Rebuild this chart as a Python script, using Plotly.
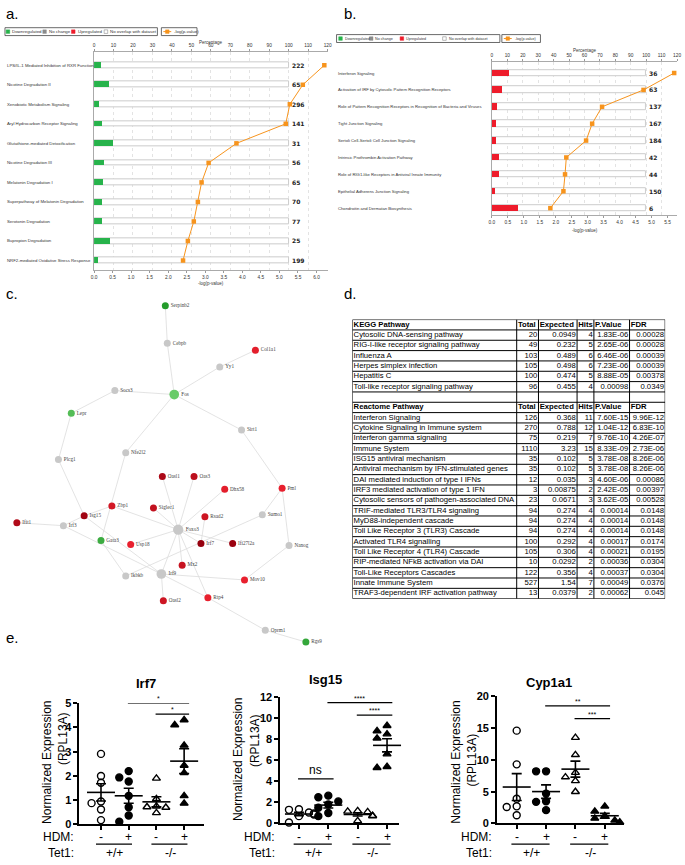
import plotly.graph_objects as go
import numpy as np

W, H = 685, 865
def X(px): return px / W
def Y(py): return 1 - py / H

SANS = "Liberation Sans"
SERIF = "Liberation Serif"

# ---------------- Panel a data ----------------
a_pathways = ["LPS/IL-1 Mediated Inhibition of RXR Function", "Nicotine Degradation II",
              "Xenobiotic Metabolism Signaling", "Aryl Hydrocarbon Receptor Signaling",
              "Glutathione-mediated Detoxification", "Nicotine Degradation III",
              "Melatonin Degradation I", "Superpathway of Melatonin Degradation",
              "Serotonin Degradation", "Bupropion Degradation",
              "NRF2-mediated Oxidative Stress Response"]
a_totals = [222, 65, 296, 141, 31, 56, 65, 70, 77, 25, 199]
a_hits_down = [8, 5, 7, 6, 3, 3, 3, 3, 3, 2, 4]
a_neglogp = [6.21, 5.63, 5.28, 5.17, 3.84, 3.09, 2.90, 2.80, 2.69, 2.53, 2.40]

# ---------------- Panel b data ----------------
b_pathways = ["Interferon Signaling", "Activation of IRF by Cytosolic Pattern Recognition Receptors",
              "Role of Pattern Recognition Receptors in Recognition of Bacteria and Viruses",
              "Tight Junction Signaling", "Sertoli Cell-Sertoli Cell Junction Signaling",
              "Intrinsic Prothrombin Activation Pathway",
              "Role of RIG1-like Receptors in Antiviral Innate Immunity",
              "Epithelial Adherens Junction Signaling", "Chondroitin and Dermatan Biosynthesis"]
b_totals = [36, 63, 137, 167, 184, 42, 44, 150, 6]
b_hits_up = [4, 4, 4, 4, 5, 2, 2, 3, 1]
b_neglogp = [5.71, 4.75, 3.45, 3.14, 2.95, 2.33, 2.29, 2.24, 1.83]

# ---------------- Panel c data (network layout) ----------------
net_nodes = ["Serpinb2", "Cebpb", "Col1a1", "Yy1", "Socs3", "Fos", "Lepr", "Sirt1",
             "Plcg1", "Nfe2l2", "Oasl1", "Oas3", "Dhx58", "Pml", "Zbp1", "Siglec1",
             "Isg15", "Rsad2", "Sumo1", "Ifit1", "Irf3", "Foxo3", "Gata3", "Usp18",
             "Irf7", "Ifi27l2a", "Nanog", "Mx2", "Ikbkb", "Irf9", "Mov10", "Oasl2",
             "Rtp4", "Oprm1", "Rgs9"]
net_x = [164, 166, 255, 219, 113, 173, 69, 241, 56, 124, 161, 193, 224, 282, 110, 152,
         82, 204, 262, 14, 61, 177, 99, 129, 200, 232, 289, 181, 124, 160, 244, 162,
         207, 265, 306]
net_y = [304, 342, 349, 366, 390, 394, 413, 430, 460, 453, 477, 477, 490, 489, 507, 509,
         517, 518, 516, 524, 527, 531, 542, 546, 545, 545, 547, 567, 578, 576, 582, 603,
         600, 633, 645]
net_fc = [-2.8, 0, 1.6, 0, 0, -1.1, -1.6, 0, 0, 0, 2.6, 2.3, 1.6, 1.5, 1.9, 2.2,
          2.8, 2.0, 0, 2.5, 0, 0, -2.2, 1.5, 3.0, 2.9, 0, 2.1, 0, 0, 1.5, 2.0,
          1.5, 0, -2.4]
net_degree_hub = {"Foxo3": 11, "Irf9": 9, "Fos": 9}
net_edges = [("Serpinb2", "Cebpb"), ("Cebpb", "Fos"), ("Col1a1", "Yy1"), ("Yy1", "Fos"),
             ("Socs3", "Fos"), ("Socs3", "Lepr"), ("Fos", "Sirt1"), ("Fos", "Nfe2l2"),
             ("Lepr", "Plcg1"), ("Sirt1", "Pml"), ("Plcg1", "Isg15"), ("Nfe2l2", "Gata3"),
             ("Pml", "Sumo1"), ("Pml", "Nanog"), ("Ifit1", "Irf3"), ("Irf3", "Isg15"),
             ("Isg15", "Zbp1"), ("Zbp1", "Foxo3"), ("Isg15", "Irf9"), ("Irf3", "Irf9"),
             ("Gata3", "Ikbkb"), ("Usp18", "Foxo3"), ("Ikbkb", "Sumo1"),
             ("Foxo3", "Oasl1"), ("Foxo3", "Oas3"), ("Foxo3", "Dhx58"), ("Foxo3", "Siglec1"),
             ("Rsad2", "Irf7"), ("Foxo3", "Ifi27l2a"), ("Foxo3", "Irf7"), ("Foxo3", "Mx2"),
             ("Foxo3", "Irf9"), ("Foxo3", "Rtp4"), ("Irf9", "Mov10"), ("Irf9", "Oasl2"),
             ("Irf9", "Rtp4"), ("Nanog", "Mov10"), ("Rtp4", "Oprm1"), ("Oprm1", "Rgs9")]

# ---------------- Panel d data (table) ----------------
tbl_cols = ["Total", "Expected", "Hits", "P.Value", "FDR"]
kegg_names = ["Cytosolic DNA-sensing pathway", "RIG-I-like receptor signaling pathway",
              "Influenza A", "Herpes simplex infection", "Hepatitis C",
              "Toll-like receptor signaling pathway"]
kegg_total = ["20", "49", "103", "105", "100", "96"]
kegg_expected = ["0.0949", "0.232", "0.489", "0.498", "0.474", "0.455"]
kegg_hits = ["4", "5", "6", "6", "5", "4"]
kegg_p = ["1.83E-06", "2.65E-06", "6.46E-06", "7.23E-06", "8.88E-05", "0.00098"]
kegg_fdr = ["0.00028", "0.00028", "0.00039", "0.00039", "0.00378", "0.0349"]
react_names = ["Interferon Signaling", "Cytokine Signaling in Immune system",
               "Interferon gamma signaling", "Immune System", "ISG15 antiviral mechanism",
               "Antiviral mechanism by IFN-stimulated genes",
               "DAI mediated induction of type I IFNs", "IRF3 mediated activation of type 1 IFN",
               "Cytosolic sensors of pathogen-associated DNA", "TRIF-mediated TLR3/TLR4 signaling",
               "MyD88-independent cascade", "Toll Like Receptor 3 (TLR3) Cascade",
               "Activated TLR4 signalling", "Toll Like Receptor 4 (TLR4) Cascade",
               "RIP-mediated NFkB activation via DAI", "Toll-Like Receptors Cascades",
               "Innate Immune System", "TRAF3-dependent IRF activation pathway"]
react_total = ["126", "270", "75", "1110", "35", "35", "12", "3", "23", "94", "94", "94",
               "100", "105", "10", "122", "527", "13"]
react_expected = ["0.368", "0.788", "0.219", "3.23", "0.102", "0.102", "0.035", "0.00875",
                  "0.0671", "0.274", "0.274", "0.274", "0.292", "0.306", "0.0292", "0.356",
                  "1.54", "0.0379"]
react_hits = ["11", "12", "7", "15", "5", "5", "3", "2", "3", "4", "4", "4", "4", "4", "2",
              "4", "7", "2"]
react_p = ["7.60E-15", "1.04E-12", "9.76E-10", "8.33E-09", "3.78E-08", "3.78E-08", "4.60E-06",
           "2.42E-05", "3.62E-05", "0.00014", "0.00014", "0.00014", "0.00017", "0.00021",
           "0.00036", "0.00037", "0.00049", "0.00062"]
react_fdr = ["9.96E-12", "6.83E-10", "4.26E-07", "2.73E-06", "8.26E-06", "8.26E-06", "0.00086",
             "0.00397", "0.00528", "0.0148", "0.0148", "0.0148", "0.0174", "0.0195", "0.0304",
             "0.0304", "0.0376", "0.045"]

# ---------------- Panel e data ----------------
e_genes = ["Irf7", "Isg15", "Cyp1a1"]
irf7_groups = [[2.91, 2.0, 1.72, 0.95, 0.88, 0.62, 0.18],
               [2.2, 1.94, 1.77, 1.18, 0.71, 0.37, 0.11],
               [1.9, 1.05, 0.75, 0.72, 0.70, 0.48],
               [4.31, 4.1, 3.26, 2.43, 2.13, 1.18, 0.87]]
isg15_groups = [[1.35, 1.3, 1.05, 0.95, 0.85, 0.7, 0.1],
                [2.65, 2.5, 2.1, 1.8, 1.5, 1.0, 0.7],
                [1.2, 1.15, 1.1, 0.75, 0.7, 0.25],
                [9.3, 8.8, 8.5, 8.1, 6.6, 5.3, 5.4]]
cyp1a1_groups = [[14.6, 9.3, 3.9, 2.7, 2.6, 1.3],
                 [8.2, 8.2, 4.7, 3.5, 3.4, 2.1],
                 [13.5, 10.8, 8.0, 7.3, 6.7, 5.0],
                 [2.7, 1.9, 1.2, 0.8, 0.5, 0.2]]
hdm_labels = ["-", "+", "-", "+"]
tet1_labels = ["+/+", "-/-"]
irf7_sig = [(1, 3, 5.0, "*"), (2, 3, 4.55, "*")]
isg15_sig = [(1, 3, 11.5, "****"), (2, 3, 10.3, "****"), (0, 1, 4.25, "ns")]
cyp1a1_sig = [(1, 3, 18.5, "**"), (2, 3, 16.5, "***")]

fig = go.Figure()
annotations = []
shapes = []

def pann(text, px, py, size, xanchor="left", family=SANS, color="#222", yanchor="middle", **kw):
    annotations.append(dict(text=text, x=X(px), y=Y(py), xref="paper", yref="paper",
                            xanchor=xanchor, yanchor=yanchor, showarrow=False,
                            font=dict(size=size, family=family, color=color), **kw))

# ============ Panels a & b (IPA bar charts) ============
GREEN, RED, ORANGE = "#27b34b", "#ee1c2b", "#f7941d"

def ipa_panel(names, totals, hits, nlp, color, xp, xl, yax, bar_w, lab_px, lab_size):
    rows = list(range(len(names)))
    pct = [100 * h / t for h, t in zip(hits, totals)]
    fig.add_trace(go.Bar(y=rows, x=[100] * len(rows), orientation="h", width=bar_w,
                         marker=dict(color="white", line=dict(color="#cccccc", width=1)),
                         xaxis=xp, yaxis=yax, showlegend=False, hoverinfo="skip"))
    fig.add_trace(go.Bar(y=rows, x=pct, orientation="h", width=bar_w,
                         marker=dict(color=color, line=dict(width=0)),
                         xaxis=xp, yaxis=yax, showlegend=False))
    fig.add_trace(go.Scatter(x=nlp, y=rows, mode="lines+markers",
                             line=dict(color=ORANGE, width=1),
                             marker=dict(symbol="square", size=4.5, color=ORANGE),
                             xaxis=xl, yaxis=yax, showlegend=False, cliponaxis=False))
    for i, (n, t) in enumerate(zip(names, totals)):
        annotations.append(dict(text=n, x=X(lab_px), y=i, xref="paper", yref=yax,
                                xanchor="left", yanchor="middle", showarrow=False,
                                font=dict(size=lab_size, family=SANS, color="#333")))
        annotations.append(dict(text=str(t), x=100, y=i, xref=xp, yref=yax, xshift=1,
                                xanchor="left", yanchor="middle", showarrow=False,
                                font=dict(size=6, family="DejaVu Sans", color="#222",
                                          weight="bold")))

ipa_panel(a_pathways, a_totals, a_hits_down, a_neglogp, GREEN, "x", "x2", "y", 0.3, 2, 4.3)
ipa_panel(b_pathways, b_totals, b_hits_up, b_neglogp, RED, "x3", "x4", "y2", 0.38, 336, 4.2)

def legend_boxes(x0, x1, x2, x3, y0, y1, items, lp, fs):
    shapes.append(dict(type="rect", xref="paper", yref="paper", x0=X(x0), x1=X(x1),
                       y0=Y(y1), y1=Y(y0), line=dict(color="#444", width=0.8)))
    shapes.append(dict(type="rect", xref="paper", yref="paper", x0=X(x2), x1=X(x3),
                       y0=Y(y1), y1=Y(y0), line=dict(color="#444", width=0.8)))
    ym = (y0 + y1) / 2
    for cx, col, txt in items:
        shapes.append(dict(type="rect", xref="paper", yref="paper", x0=X(cx - 1.8),
                           x1=X(cx + 1.8), y0=Y(ym + 1.8), y1=Y(ym - 1.8),
                           fillcolor=col, line=dict(color="#777" if col == "white" else col,
                                                    width=0.5)))
        pann(txt, cx + 2.3, ym, fs, color="#333")
    shapes.append(dict(type="line", xref="paper", yref="paper", x0=X(lp - 4), x1=X(lp + 4),
                       y0=Y(ym), y1=Y(ym), line=dict(color=ORANGE, width=1)))
    shapes.append(dict(type="rect", xref="paper", yref="paper", x0=X(lp - 1.8),
                       x1=X(lp + 1.8), y0=Y(ym + 1.8), y1=Y(ym - 1.8),
                       fillcolor=ORANGE, line=dict(color=ORANGE, width=0.5)))
    pann("-log(p-value)", lp + 5, ym, fs, color="#333")

leg_items = ["Downregulated", "No change", "Upregulated", "No overlap with dataset"]
leg_cols = [GREEN, "#8c8c8c", RED, "white"]
legend_boxes(2, 156, 160, 196, 22, 30,
             list(zip([5, 42, 71, 104], leg_cols, leg_items)), 166, 4.4)
legend_boxes(337, 502, 504, 543, 29, 37,
             list(zip([341, 372, 403, 446], leg_cols, leg_items)), 510, 3.7)

pann("Percentage", 210, 37, 4.5, xanchor="center", color="#333")
pann("-log(p-value)", 210, 281, 4.5, xanchor="center", color="#333")
pann("Percentage", 588, 45, 4.5, xanchor="center", color="#333")
pann("-log(p-value)", 588, 228, 4.5, xanchor="center", color="#333")

axis_small = dict(tickfont=dict(size=4.8, family=SANS, color="#333"), ticks="outside",
                  ticklen=2, tickcolor="#999", linecolor="#aaa", showline=True,
                  zeroline=False)

# ============ Panel c (network) ============
def fc_color(v):
    def mix(c1, c2, t):
        t = min(max(t, 0.0), 1.0)
        return "rgb(%d,%d,%d)" % tuple(int(round(a + (b - a) * t)) for a, b in zip(c1, c2))
    if v == 0:
        return "rgb(200,200,200)"
    if v < 0:
        return mix((108, 206, 108), (28, 150, 36), (-v - 1) / 2.0)
    return mix((232, 32, 46), (150, 0, 14), (v - 1.5) / 1.5)

idx = {n: i for i, n in enumerate(net_nodes)}
ex, ey = [], []
for a_, b_ in net_edges:
    ex += [net_x[idx[a_]], net_x[idx[b_]], None]
    ey += [net_y[idx[a_]], net_y[idx[b_]], None]
fig.add_trace(go.Scatter(x=ex, y=ey, mode="lines", line=dict(color="#dcdcdc", width=0.8),
                         xaxis="x5", yaxis="y3", showlegend=False, hoverinfo="skip"))
node_sizes = [7 + 0.3 * net_degree_hub.get(n, 0) for n in net_nodes]
fig.add_trace(go.Scatter(x=net_x, y=net_y, mode="markers+text", text=net_nodes,
                         textposition="middle right",
                         textfont=dict(size=5.2, family=SERIF, color="#444"),
                         marker=dict(size=node_sizes, color=[fc_color(v) for v in net_fc],
                                     line=dict(width=0), opacity=1),
                         xaxis="x5", yaxis="y3", showlegend=False, cliponaxis=False))

# ============ Panel d (table drawn on its own axes) ============
col_w = [166, 22, 39, 17, 36, 36]
edges_x = [float(v) for v in np.cumsum([0] + col_w)]
names_col = (["<b>KEGG Pathway</b>"] + kegg_names + [""] + ["<b>Reactome Pathway</b>"]
             + react_names)
nrows = len(names_col)
hdr_rows = [0, len(kegg_names) + 2]
num_cols = [kegg_total, kegg_expected, kegg_hits, kegg_p, kegg_fdr]
rnum_cols = [react_total, react_expected, react_hits, react_p, react_fdr]
tfont = dict(size=7.7, family=SANS, color="black")
gx, gy = [], []
for r in range(nrows + 1):
    gx += [0, edges_x[-1], None]
    gy += [r, r, None]
for e in edges_x:
    gx += [e, e, None]
    gy += [0, nrows, None]
fig.add_trace(go.Scatter(x=gx, y=gy, mode="lines", line=dict(color="black", width=1),
                         xaxis="x9", yaxis="y7", showlegend=False, hoverinfo="skip",
                         cliponaxis=False))
rows_c = [r + 0.5 for r in range(nrows)]
fig.add_trace(go.Scatter(x=[1.2] * nrows, y=rows_c, mode="text", text=names_col,
                         textposition="middle right", textfont=tfont,
                         xaxis="x9", yaxis="y7", showlegend=False, cliponaxis=False))
for ci, (hdr, kv, rv) in enumerate(zip(tbl_cols, num_cols, rnum_cols)):
    vals = [""] + kv + [""] + [""] + rv
    fig.add_trace(go.Scatter(x=[edges_x[ci + 2] - 1.2] * nrows, y=rows_c, mode="text",
                             text=vals, textposition="middle left", textfont=tfont,
                             xaxis="x9", yaxis="y7", showlegend=False, cliponaxis=False))
    fig.add_trace(go.Scatter(x=[edges_x[ci + 1] + 1.2] * 2, y=[r + 0.5 for r in hdr_rows],
                             mode="text", text=["<b>" + hdr + "</b>"] * 2,
                             textposition="middle right", textfont=tfont,
                             xaxis="x9", yaxis="y7", showlegend=False, cliponaxis=False))

# ============ Panel e (dot plots) ============
def swarm(vals, ppu_y, ppc, diam=6.5, step=0.17):
    order = np.argsort(vals)[::-1]
    placed = []
    offs = [0.0] * len(vals)
    for i in order:
        yv = vals[i] * ppu_y
        for k in [0, -1, 1, -2, 2, -3, 3]:
            dx = k * step * ppc
            if all(abs(yv - py) >= diam or abs(dx - pdx) >= diam for py, pdx in placed):
                break
        placed.append((yv, dx))
        offs[i] = dx / ppc
    return offs

syms = ["circle-open", "circle", "triangle-up-open", "triangle-up"]
e_specs = [
    (irf7_groups, irf7_sig, "x6", "y4", (77, 203), (99, 183), (707, 830), 5, 1,
     (144, 687), ((45, 767), (60, 743))),
    (isg15_groups, isg15_sig, "x7", "y5", (280, 400), (299, 388), (701, 829), 12, 2,
     (326, 683), ((238, 764), (254, 745))),
    (cyp1a1_groups, cyp1a1_sig, "x8", "y6", (499, 627), (519, 608), (700, 829), 20, 5,
     (552, 686), ((458, 767), (474, 765))),
]
e_layout = {}
for gi, (groups, sig, xa, ya, xpx, cpx, ypx, ymax, dt, tpos, ylpos) in enumerate(e_specs):
    ppc = (cpx[1] - cpx[0]) / 3.0
    ppu = (ypx[1] - ypx[0]) / ymax
    xr = [(xpx[0] - cpx[0]) / ppc, 3 + (xpx[1] - cpx[1]) / ppc]
    means, sems = [], []
    for ci, vals in enumerate(groups):
        v = np.array(vals)
        means.append(v.mean())
        sems.append(v.std(ddof=1) / np.sqrt(len(v)))
        offs = swarm(vals, ppu, ppc)
        fig.add_trace(go.Scatter(x=[ci + o for o in offs], y=vals, mode="markers",
                                 marker=dict(symbol=syms[ci], size=7, color="black",
                                             line=dict(color="black", width=1.4)),
                                 xaxis=xa, yaxis=ya, showlegend=False, cliponaxis=False))
    fig.add_trace(go.Scatter(x=[0, 1, 2, 3], y=means, mode="markers",
                             marker=dict(symbol="line-ew-open", size=20, color="black",
                                         line=dict(color="black", width=1.6)),
                             error_y=dict(type="data", array=sems, width=5, thickness=1.6,
                                          color="black"),
                             xaxis=xa, yaxis=ya, showlegend=False, cliponaxis=False))
    axn = xa.replace("x", "xaxis")
    ayn = ya.replace("y", "yaxis")
    e_layout[axn] = dict(domain=[X(xpx[0]), X(xpx[1])], range=xr, anchor=ya,
                         showline=True, linecolor="black", linewidth=1.5, ticks="outside",
                         tickvals=[0, 1, 2, 3], ticklen=4, tickwidth=1.5, tickcolor="black",
                         showticklabels=False, showgrid=False, zeroline=False)
    e_layout[ayn] = dict(domain=[Y(ypx[1]), Y(ypx[0])], range=[0, ymax], anchor=xa,
                         showline=True, linecolor="black", linewidth=1.5, ticks="outside",
                         dtick=dt, ticklen=4, tickwidth=1.5, tickcolor="black",
                         tickfont=dict(size=11, family=SANS, color="black", weight="bold"),
                         showgrid=False, zeroline=False)
    for (c1, c2, h, lab) in sig:
        shapes.append(dict(type="line", xref=xa, yref=ya, x0=c1 - 0.03, x1=c2 + 0.18,
                           y0=h, y1=h, line=dict(color="black", width=1.2)))
        annotations.append(dict(text=lab, x=(c1 + c2 + 0.15) / 2, y=h, xref=xa, yref=ya,
                                yanchor="bottom", showarrow=False,
                                yshift=-1 if lab != "ns" else 0,
                                font=dict(size=12 if lab == "ns" else 7, family=SANS,
                                          color="black")))
    pann("<b>" + e_genes[gi] + "</b>", tpos[0], tpos[1], 13, xanchor="center", color="black")
    pann("Normalized Expression", ylpos[0][0], ylpos[0][1], 12, xanchor="center",
         color="black", textangle=-90)
    pann("(RPL13A)", ylpos[1][0], ylpos[1][1], 12, xanchor="center", color="black",
         textangle=-90)
    pann("HDM:", xpx[0] - 3, 843, 12, xanchor="right", color="black")
    pann("Tet1:", xpx[0] - 3, 859, 12, xanchor="right", color="black")
    for ci, hl in enumerate(hdm_labels):
        annotations.append(dict(text=hl, x=ci, y=Y(843), xref=xa, yref="paper",
                                showarrow=False, yanchor="middle",
                                font=dict(size=12, family=SANS, color="black")))
    for k, tl in enumerate(tet1_labels):
        shapes.append(dict(type="line", xref=xa, yref="paper", x0=2 * k - 0.18,
                           x1=2 * k + 1.12, y0=Y(850), y1=Y(850),
                           line=dict(color="black", width=1.2)))
        annotations.append(dict(text=tl, x=2 * k + 0.5, y=Y(859), xref=xa, yref="paper",
                                showarrow=False, yanchor="middle",
                                font=dict(size=12, family=SANS, color="black")))

pann("a.", 1, 8, 15, color="black")
pann("b.", 342, 8, 15, color="black")
pann("c.", 1, 292, 15, color="black")
pann("d.", 343, 292, 15, color="black")
pann("e.", 1, 640, 15, color="black")

fig.update_layout(
    width=W, height=H, margin=dict(l=0, r=0, t=0, b=0, pad=0),
    paper_bgcolor="white", plot_bgcolor="rgba(0,0,0,0)",
    barmode="overlay", bargap=0,
    xaxis=dict(domain=[X(92), X(328)], range=[0, 120], side="top", anchor="y",
               tickvals=list(range(0, 121, 10)), showgrid=True, gridcolor="#e3e3e3",
               griddash="dot", gridwidth=0.8, **axis_small),
    xaxis2=dict(overlaying="x", side="bottom", anchor="y", range=[0, 6.3], dtick=0.5,
                tick0=0, tickformat=".1f", showgrid=False, **axis_small),
    yaxis=dict(domain=[Y(268), Y(47)], range=[10.5, -0.66], anchor="x",
               showticklabels=False, showgrid=False, zeroline=False, showline=True,
               linecolor="#aaa", ticks=""),
    xaxis3=dict(domain=[X(494), X(681)], range=[0, 120], side="top", anchor="y2",
                tickvals=list(range(0, 121, 10)), showgrid=True, gridcolor="#e3e3e3",
                griddash="dot", gridwidth=0.8, **axis_small),
    xaxis4=dict(overlaying="x3", side="bottom", anchor="y2", range=[0, 5.8], dtick=0.5,
                tick0=0, tickformat=".1f", showgrid=False, **axis_small),
    yaxis2=dict(domain=[Y(212), Y(57)], range=[8.41, -0.64], anchor="x3",
                showticklabels=False, showgrid=False, zeroline=False, showline=True,
                linecolor="#aaa", ticks=""),
    xaxis5=dict(domain=[0, X(340)], range=[0, 340], anchor="y3", visible=False),
    yaxis3=dict(domain=[Y(660), Y(285)], range=[660, 285], anchor="x5", visible=False),
    xaxis9=dict(domain=[X(353), X(669)], range=[0, edges_x[-1]], anchor="y7",
                visible=False),
    yaxis7=dict(domain=[Y(601), Y(318)], range=[nrows, 0], anchor="x9", visible=False),
    annotations=annotations, shapes=shapes,
    font=dict(family=SANS),
)
fig.update_layout(**e_layout)
fig.write_html("out.html", config={"displayModeBar": False},
               post_script="document.body.style.margin='0';document.body.style.overflow='hidden';")
